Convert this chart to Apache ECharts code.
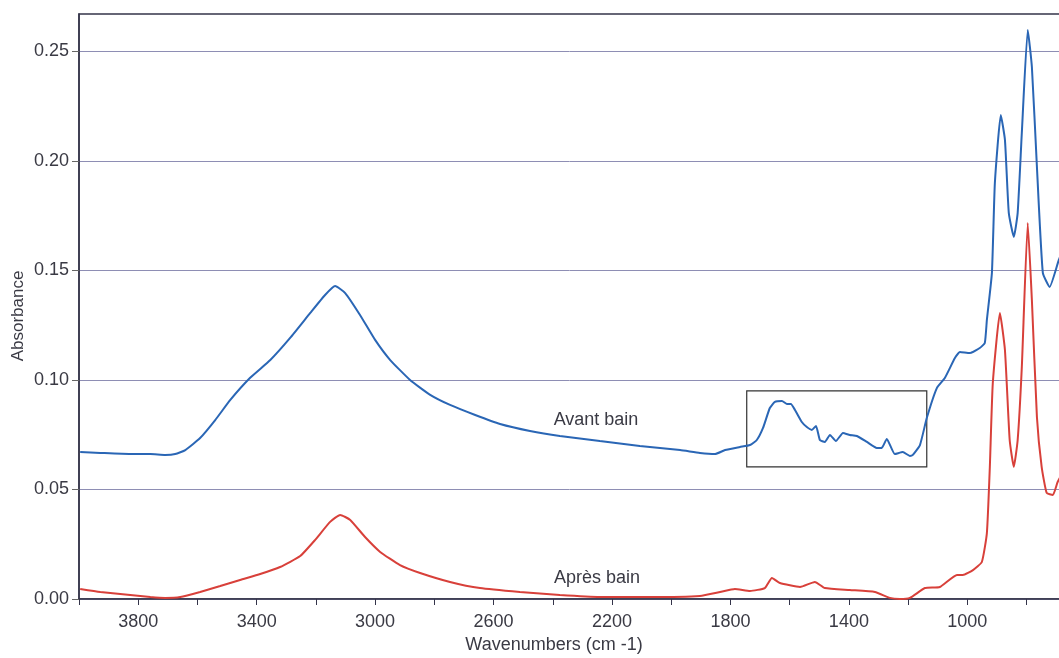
<!DOCTYPE html>
<html>
<head>
<meta charset="utf-8">
<script src="https://cdn.jsdelivr.net/npm/echarts@6/dist/echarts.min.js"></script>
<style>
html,body{margin:0;padding:0;background:#fff;overflow:hidden;}
#chart{width:1059px;height:658px;}
</style>
</head>
<body>
<div id="chart"></div>
<script>
// Wavenumbers (cm-1) and absorbance
const avantWn = [3996,3928,3827,3759,3709,3675,3641,3591,3540,3489,3422,3354,3287,3219,3169,3135,3101,3051,3000,2949,2882,2814,2747,2662,2578,2477,2376,2241,2106,1970,1903,1852,1818,1768,1734,1711,1690,1667,1650,1626,1609,1596,1582,1559,1542,1525,1511,1498,1481,1464,1444,1420,1397,1373,1339,1306,1289,1272,1245,1218,1194,1184,1160,1137,1103,1076,1042,1025,992,958,941,934,917,907,887,873,860,843,830,816,796,782,765,745,722,691,660];
const avantAbs = [0.0671,0.0667,0.0662,0.0662,0.0658,0.0662,0.068,0.0735,0.0817,0.0909,0.101,0.1091,0.1192,0.1306,0.1388,0.1429,0.1397,0.1297,0.1183,0.1091,0.1,0.0932,0.0886,0.084,0.0799,0.0767,0.0744,0.0721,0.0699,0.068,0.0667,0.0662,0.068,0.0694,0.0703,0.0726,0.0781,0.0872,0.09,0.0904,0.089,0.089,0.0863,0.0808,0.0785,0.0772,0.079,0.0726,0.0717,0.0749,0.0721,0.0758,0.0749,0.0744,0.0717,0.069,0.069,0.0731,0.0662,0.0671,0.0653,0.0658,0.0703,0.0826,0.0963,0.1009,0.11,0.1128,0.1123,0.1146,0.1169,0.1274,0.1489,0.19,0.221,0.2096,0.1763,0.1653,0.1763,0.2128,0.2598,0.2429,0.1973,0.1489,0.1425,0.1548,0.165];
const apresWn = [3996,3928,3827,3759,3709,3658,3591,3523,3456,3388,3321,3253,3203,3152,3118,3084,3034,2983,2916,2848,2747,2646,2511,2376,2241,2072,1903,1835,1785,1734,1684,1660,1633,1565,1515,1481,1397,1312,1262,1228,1194,1143,1093,1035,1015,981,951,934,924,914,890,873,857,843,830,816,796,782,765,749,732,711,695,660];
const apresAbs = [0.0046,0.0032,0.0018,0.0009,0.0005,0.0009,0.0032,0.0059,0.0087,0.0114,0.0146,0.0196,0.0269,0.0352,0.0384,0.0361,0.0283,0.0215,0.0155,0.0119,0.0078,0.005,0.0032,0.0018,0.0009,0.0009,0.0014,0.0032,0.0046,0.0037,0.005,0.0096,0.0073,0.0055,0.0078,0.005,0.0041,0.0032,0.0005,0.0,0.0005,0.005,0.0055,0.011,0.011,0.0132,0.0169,0.0301,0.0603,0.0986,0.1306,0.1137,0.0726,0.0603,0.0726,0.1059,0.1717,0.1365,0.0831,0.0603,0.0484,0.0475,0.0534,0.062];
const yTicks = [0, 0.05, 0.10, 0.15, 0.20, 0.25];
const xLabelTicks = [3800, 3400, 3000, 2600, 2200, 1800, 1400, 1000, 600];
const boxCorners = [[1745, 0.0950], [1137, 0.0603]];

const zip = (a, b) => a.map((v, i) => [v, b[i]]);
const chart = echarts.init(document.getElementById('chart'));
const font = 'Liberation Sans, Arial, sans-serif';
const axisColor = '#34344a';
const textColor = '#3a3a44';

chart.setOption({
  animation: false,
  backgroundColor: '#fff',
  grid: { left: 79, top: 14, width: 1066, height: 585, containLabel: false, outerBoundsMode: 'none',
    show: true, borderColor: axisColor, borderWidth: 1.5, backgroundColor: 'transparent' },
  xAxis: {
    type: 'value', inverse: true, min: 400, max: 4000, interval: 200,
    axisLine: { show: true, onZero: false, lineStyle: { color: axisColor, width: 1.5 } },
    axisTick: { show: true, length: 6, lineStyle: { color: axisColor, width: 1 } },
    axisLabel: { color: textColor, fontSize: 18, fontFamily: font, margin: 14,
      formatter: v => xLabelTicks.indexOf(v) >= 0 ? String(v) : '' },
    splitLine: { show: false }
  },
  yAxis: {
    type: 'value', min: 0, max: 0.2671,
    axisLine: { show: true, lineStyle: { color: axisColor, width: 1.5 } },
    axisTick: { show: true, length: 7, customValues: yTicks, lineStyle: { color: '#666' } },
    axisLabel: { color: textColor, fontSize: 18, fontFamily: font, margin: 10, customValues: yTicks,
      formatter: v => v.toFixed(2) },
    splitLine: { show: true, lineStyle: { color: '#8e8eb4', width: 1 } }
  },
  series: [
    {
      name: 'Avant bain', type: 'line', data: zip(avantWn, avantAbs), showSymbol: false, smooth: 0.15,
      lineStyle: { color: '#2a66b5', width: 2 }, itemStyle: { color: '#2a66b5' }, clip: true,
      markArea: { silent: true, itemStyle: { color: 'rgba(0,0,0,0)', borderColor: '#333', borderWidth: 1.2 },
        data: [[{ xAxis: boxCorners[0][0], yAxis: boxCorners[0][1] }, { xAxis: boxCorners[1][0], yAxis: boxCorners[1][1] }]] }
    },
    {
      name: 'Après bain', type: 'line', data: zip(apresWn, apresAbs), showSymbol: false, smooth: 0.15,
      lineStyle: { color: '#d8403a', width: 2 }, itemStyle: { color: '#d8403a' }, clip: true
    }
  ],
  graphic: [
    { type: 'text', x: 596, y: 420, style: { text: 'Avant bain', fill: textColor, font: '18px ' + font, textAlign: 'center', textVerticalAlign: 'middle' } },
    { type: 'text', x: 597, y: 578, style: { text: 'Après bain', fill: textColor, font: '18px ' + font, textAlign: 'center', textVerticalAlign: 'middle' } },
    { type: 'text', x: 554, y: 645, style: { text: 'Wavenumbers (cm -1)', fill: textColor, font: '18px ' + font, textAlign: 'center', textVerticalAlign: 'middle' } },
    { type: 'text', x: 18, y: 316, rotation: Math.PI / 2, style: { text: 'Absorbance', fill: textColor, font: '17px ' + font, textAlign: 'center', textVerticalAlign: 'middle' } }
  ]
});
</script>
</body>
</html>
